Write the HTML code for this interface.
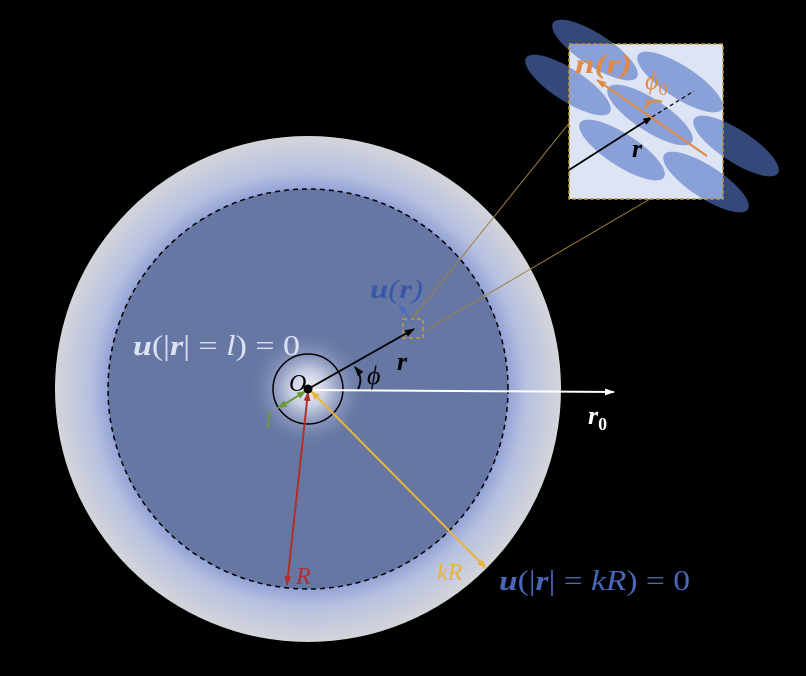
<!DOCTYPE html>
<html><head><meta charset="utf-8"><style>
html,body{margin:0;padding:0;background:#000;}
svg{display:block;}
text{font-family:"Liberation Serif","DejaVu Serif",serif;}
</style></head><body>
<svg width="806" height="676" viewBox="0 0 806 676">
<defs>
<radialGradient id="ring" cx="308" cy="389" r="253" gradientUnits="userSpaceOnUse">
<stop offset="0.78" stop-color="#8e9fd4"/>
<stop offset="0.86" stop-color="#b6c0e0"/>
<stop offset="1" stop-color="#d4d5da"/>
</radialGradient>
<radialGradient id="glow" cx="308" cy="389" r="60" gradientUnits="userSpaceOnUse">
<stop offset="0" stop-color="#f2f3f8"/>
<stop offset="0.3" stop-color="#c8cee2"/>
<stop offset="0.65" stop-color="#8e9bc0" stop-opacity="0.6"/>
<stop offset="1" stop-color="#6677a3" stop-opacity="0"/>
</radialGradient>
<marker id="ab" markerUnits="userSpaceOnUse" markerWidth="12" markerHeight="10" refX="9" refY="5" orient="auto-start-reverse"><path d="M0,1.5 L10,5 L0,8.5z" fill="#000"/></marker>
<marker id="aw" markerUnits="userSpaceOnUse" markerWidth="12" markerHeight="10" refX="9" refY="5" orient="auto"><path d="M0,1.5 L10,5 L0,8.5z" fill="#fff"/></marker>
<marker id="ar" markerUnits="userSpaceOnUse" markerWidth="12" markerHeight="10" refX="9" refY="5" orient="auto-start-reverse"><path d="M0,1.5 L10,5 L0,8.5z" fill="#b0302c"/></marker>
<marker id="ay" markerUnits="userSpaceOnUse" markerWidth="12" markerHeight="10" refX="9" refY="5" orient="auto-start-reverse"><path d="M0,1.5 L10,5 L0,8.5z" fill="#e8b43a"/></marker>
<marker id="ag" markerUnits="userSpaceOnUse" markerWidth="12" markerHeight="10" refX="9" refY="5" orient="auto-start-reverse"><path d="M0,1.5 L10,5 L0,8.5z" fill="#6a9a3c"/></marker>
<marker id="ao" markerUnits="userSpaceOnUse" markerWidth="12" markerHeight="10" refX="9" refY="5" orient="auto-start-reverse"><path d="M0,1.5 L10,5 L0,8.5z" fill="#e08a46"/></marker>
<marker id="abl" markerUnits="userSpaceOnUse" markerWidth="12" markerHeight="10" refX="9" refY="5" orient="auto"><path d="M0,1.5 L10,5 L0,8.5z" fill="#4d6bb8"/></marker>
<clipPath id="box"><rect x="569" y="44" width="154" height="155"/></clipPath>
</defs>
<rect width="806" height="676" fill="#000"/>
<circle cx="308" cy="389" r="253" fill="url(#ring)"/>
<circle cx="308" cy="389" r="200" fill="#6677a3"/>
<circle cx="308" cy="389" r="200" fill="none" stroke="#000" stroke-width="1.5" stroke-dasharray="5,4"/>
<circle cx="308" cy="389" r="60" fill="url(#glow)"/>
<circle cx="308" cy="389" r="35" fill="none" stroke="#000" stroke-width="1.5"/>
<line x1="412" y1="319" x2="570" y2="122" stroke="#a08040" stroke-width="1"/>
<line x1="423" y1="332" x2="650" y2="199" stroke="#a08040" stroke-width="1"/>
<rect x="403" y="319" width="20" height="19" fill="none" stroke="#c09a3a" stroke-width="1.5" stroke-dasharray="4,3"/>
<line x1="308" y1="390" x2="614" y2="392" stroke="#fff" stroke-width="2" marker-end="url(#aw)"/>
<line x1="308" y1="389" x2="414" y2="329" stroke="#000" stroke-width="1.8" marker-end="url(#ab)"/>
<line x1="412" y1="322" x2="399" y2="305" stroke="#4d6bb8" stroke-width="1.8" marker-end="url(#abl)"/>
<line x1="308" y1="392" x2="287" y2="585" stroke="#b0302c" stroke-width="2" marker-start="url(#ar)" marker-end="url(#ar)"/>
<line x1="311" y1="391" x2="486" y2="568" stroke="#e8b43a" stroke-width="2" marker-start="url(#ay)" marker-end="url(#ay)"/>
<line x1="306" y1="391" x2="278" y2="408" stroke="#6a9a3c" stroke-width="2" marker-start="url(#ag)" marker-end="url(#ag)"/>
<path d="M355,367 Q364,378 358,389" fill="none" stroke="#000" stroke-width="1.8" marker-start="url(#ab)"/>
<circle cx="308" cy="389" r="4.5" fill="#000"/>
<text x="289" y="391" font-size="24" font-style="italic" fill="#000">O</text>
<text x="367" y="384" font-size="26" font-style="italic" fill="#000">ϕ</text>
<text x="397" y="370" font-size="26" font-weight="bold" font-style="italic" fill="#000">r</text>
<text x="370" y="298" font-size="27" font-style="italic" fill="#3a56a8" textLength="53" lengthAdjust="spacingAndGlyphs"><tspan font-weight="bold">u</tspan>(<tspan font-weight="bold">r</tspan>)</text>
<text x="133" y="355" font-size="28" fill="#dde2f2" textLength="167" lengthAdjust="spacingAndGlyphs"><tspan font-weight="bold" font-style="italic">u</tspan>(|<tspan font-weight="bold" font-style="italic">r</tspan>| = <tspan font-style="italic">l</tspan>) = 0</text>
<text x="588" y="424" font-size="26" font-weight="bold" font-style="italic" fill="#fff">r<tspan font-size="18" font-style="normal" dy="6">0</tspan></text>
<text x="265" y="428" font-size="24" font-style="italic" fill="#6a9a3c">l</text>
<text x="296" y="584" font-size="24" font-style="italic" fill="#b0302c">R</text>
<text x="437" y="580" font-size="24" font-style="italic" fill="#e8b43a">kR</text>
<text x="499" y="590" font-size="28" fill="#4a66b8" textLength="191" lengthAdjust="spacingAndGlyphs"><tspan font-weight="bold" font-style="italic">u</tspan>(|<tspan font-weight="bold" font-style="italic">r</tspan>| = <tspan font-style="italic">kR</tspan>) = 0</text>
<g>
<g fill="#34497a">
<ellipse cx="595" cy="50" rx="50" ry="16" transform="rotate(33 595 50)"/>
<ellipse cx="568" cy="85" rx="50" ry="16" transform="rotate(33 568 85)"/>
<ellipse cx="680" cy="82" rx="50" ry="16" transform="rotate(33 680 82)"/>
<ellipse cx="650" cy="115" rx="50" ry="16" transform="rotate(33 650 115)"/>
<ellipse cx="622" cy="150" rx="50" ry="16" transform="rotate(33 622 150)"/>
<ellipse cx="736" cy="146" rx="50" ry="16" transform="rotate(33 736 146)"/>
<ellipse cx="706" cy="182" rx="50" ry="16" transform="rotate(33 706 182)"/>
</g>
<rect x="569" y="44" width="154" height="155" fill="#dde4f4"/>
<g fill="#8aa0d8" clip-path="url(#box)">
<ellipse cx="595" cy="50" rx="50" ry="16" transform="rotate(33 595 50)"/>
<ellipse cx="568" cy="85" rx="50" ry="16" transform="rotate(33 568 85)"/>
<ellipse cx="680" cy="82" rx="50" ry="16" transform="rotate(33 680 82)"/>
<ellipse cx="650" cy="115" rx="50" ry="16" transform="rotate(33 650 115)"/>
<ellipse cx="622" cy="150" rx="50" ry="16" transform="rotate(33 622 150)"/>
<ellipse cx="736" cy="146" rx="50" ry="16" transform="rotate(33 736 146)"/>
<ellipse cx="706" cy="182" rx="50" ry="16" transform="rotate(33 706 182)"/>
</g>
<rect x="569" y="44" width="154" height="155" fill="none" stroke="#b8963a" stroke-width="1.5" stroke-dasharray="4,2"/>
<line x1="569" y1="170" x2="652" y2="117" stroke="#000" stroke-width="1.8" marker-end="url(#ab)"/>
<line x1="652" y1="117" x2="694" y2="91" stroke="#000" stroke-width="1.2" stroke-dasharray="4,3"/>
<line x1="707" y1="156" x2="597" y2="80" stroke="#e08a46" stroke-width="2" marker-end="url(#ao)"/>
<path d="M645,108 Q652,97 662,102" fill="none" stroke="#e08a46" stroke-width="2" marker-start="url(#ao)"/>
<text x="575" y="73" font-size="27" font-weight="bold" font-style="italic" fill="#e08a46" textLength="57" lengthAdjust="spacingAndGlyphs">n(r)</text>
<text x="645" y="89" font-size="26" font-style="italic" fill="#e08a46">ϕ<tspan font-size="18" font-style="normal" dy="6">0</tspan></text>
<text x="632" y="157" font-size="26" font-weight="bold" font-style="italic" fill="#000">r</text>
</g>
</svg>
</body></html>
